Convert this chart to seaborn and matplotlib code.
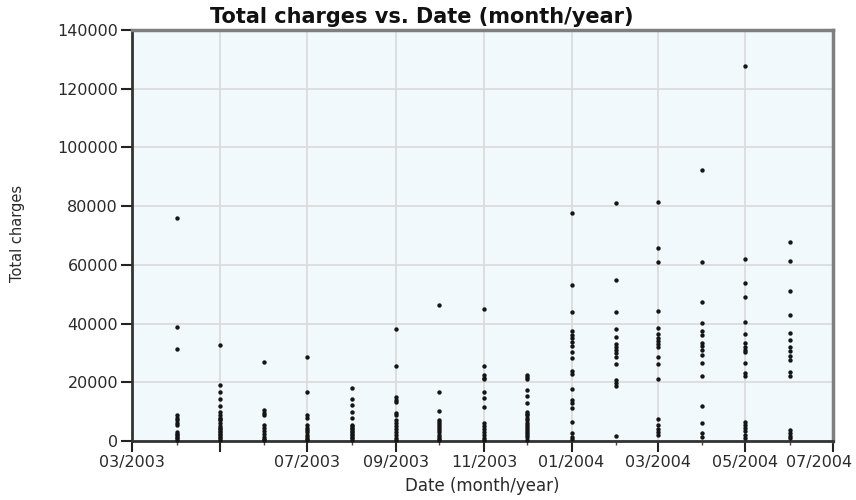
import matplotlib
matplotlib.use("Agg")
import matplotlib.pyplot as plt
import matplotlib.dates as mdates
import matplotlib.transforms as mtransforms
from matplotlib.ticker import FixedLocator, FixedFormatter
import seaborn as sns
import pandas as pd

# Total charges per visit, grouped by the month of the visit
months = ["2003-04", "2003-05", "2003-06", "2003-07", "2003-08", "2003-09",
          "2003-10", "2003-11", "2003-12", "2004-01", "2004-02", "2004-03",
          "2004-04", "2004-05", "2004-06"]

charges_2003_04 = [76000, 39000, 31400, 9000, 8000, 7000, 6000, 5500, 3000, 2500, 2000, 1500, 1000, 500]
charges_2003_05 = [32600, 19000, 16800, 14200, 11900, 10000, 9000, 8000, 7500, 7000, 6000, 5000,
                   4500, 4000, 3500, 3000, 2500, 2000, 1500, 1000, 500]
charges_2003_06 = [27000, 10500, 9500, 8800, 5500, 4500, 3500, 2500, 1500, 800, 300]
charges_2003_07 = [28700, 16800, 8800, 7800, 5500, 4500, 3800, 3000, 2200, 1500, 800, 300]
charges_2003_08 = [17900, 14200, 12300, 10000, 7700, 5500, 5000, 4500, 4000, 3500, 3000, 2500,
                   2000, 1500, 1000, 500]
charges_2003_09 = [38000, 25500, 15100, 14000, 13400, 9600, 8700, 7200, 6000, 5000, 4000, 3000,
                   2000, 1000, 300]
charges_2003_10 = [46300, 16800, 10300, 7200, 6500, 5800, 5000, 4300, 3600, 2900, 2200, 1500, 800, 300]
charges_2003_11 = [45100, 25500, 22500, 21500, 21000, 16800, 14800, 11500, 6000, 5000, 4000, 3000,
                   2000, 1000, 300]
charges_2003_12 = [22500, 21800, 21000, 17400, 15300, 13000, 10000, 9300, 8800, 7800, 7000, 6300,
                   5500, 4800, 4000, 3300, 2600, 1900, 1200, 500]
charges_2004_01 = [77500, 53300, 43900, 37500, 36100, 35000, 33800, 32500, 30400, 28200, 23900,
                   22800, 17800, 14000, 13000, 11400, 6400, 2600, 1200, 600]
charges_2004_02 = [81000, 54800, 43900, 38000, 35300, 33000, 32000, 31000, 30000, 28700, 26100,
                   20800, 19700, 18700, 1700]
charges_2004_03 = [81500, 65600, 60900, 44400, 38600, 36400, 35000, 34000, 33000, 32100, 28700,
                   26100, 21100, 7400, 5400, 4000, 3000, 2000]
charges_2004_04 = [92300, 60900, 47200, 40300, 37600, 36100, 33300, 32300, 31000, 29300, 26700,
                   22200, 11900, 6000, 2600, 1300]
charges_2004_05 = [127700, 62000, 53700, 48900, 40600, 36300, 33300, 32000, 31000, 30400, 26700,
                   23000, 22100, 6600, 5500, 4400, 3300, 2200, 1000]
charges_2004_06 = [67900, 61300, 51100, 42900, 36900, 34400, 32100, 30600, 29100, 27600, 23600,
                   22100, 3700, 2800, 1800, 900]

all_charges = [charges_2003_04, charges_2003_05, charges_2003_06, charges_2003_07, charges_2003_08,
               charges_2003_09, charges_2003_10, charges_2003_11, charges_2003_12, charges_2004_01,
               charges_2004_02, charges_2004_03, charges_2004_04, charges_2004_05, charges_2004_06]

# Axis ticks: a major tick every two months, the May 2003 one left unlabelled
tick_dates = ["2003-03-01", "2003-05-01", "2003-07-01", "2003-09-01", "2003-11-01",
              "2004-01-01", "2004-03-01", "2004-05-01", "2004-07-01"]
tick_labels = ["03/2003", "", "07/2003", "09/2003", "11/2003", "01/2004", "03/2004",
               "05/2004", "07/2004"]
minor_dates = ["2003-04-01", "2003-06-01", "2003-08-01", "2003-10-01", "2003-12-01",
               "2004-02-01", "2004-04-01", "2004-06-01"]
y_ticks = [0, 20000, 40000, 60000, 80000, 100000, 120000, 140000]

rows = []
for m, vals in zip(months, all_charges):
    for v in vals:
        rows.append({"date": pd.Timestamp(m + "-01"), "charges": v})
df = pd.DataFrame(rows)

sns.set_style("white")
plt.rcParams["font.family"] = ["DejaVu Sans"]

fig = plt.figure(figsize=(8.56, 5.0), dpi=100)
ax = fig.add_axes([132 / 856, 1 - 441 / 500, (833 - 132) / 856, (441 - 30) / 500])
ax.set_facecolor("#f1f9fc")

sns.scatterplot(data=df, x="date", y="charges", ax=ax, color="#151515", marker="o",
                s=10, linewidth=0, zorder=3, clip_on=False)

ax.set_xlim(mdates.date2num(pd.Timestamp("2003-03-01")), mdates.date2num(pd.Timestamp("2004-07-01")))
ax.set_ylim(0, 140000)

major = [mdates.date2num(pd.Timestamp(d)) for d in tick_dates]
minor = [mdates.date2num(pd.Timestamp(d)) for d in minor_dates]
ax.xaxis.set_major_locator(FixedLocator(major))
ax.xaxis.set_major_formatter(FixedFormatter(tick_labels))
ax.xaxis.set_minor_locator(FixedLocator(minor))
ax.set_yticks(y_ticks)
ax.set_yticklabels([str(v) for v in y_ticks])

ax.grid(True, which="major", color="#dadcde", linewidth=1.3, zorder=0)
ax.set_axisbelow(True)

ax.tick_params(axis="both", which="major", direction="out", length=8, width=1.5,
               color="#222222", labelsize=11.5, labelcolor="#2a2a2a", pad=2,
               left=True, bottom=True)
ax.tick_params(axis="x", which="minor", direction="out", length=3, width=1.0,
               color="#444444", bottom=True)

for side in ["left", "bottom"]:
    ax.spines[side].set_color("#333333")
    ax.spines[side].set_linewidth(2.0)
for side in ["top", "right"]:
    ax.spines[side].set_color("#7f7f7f")
    ax.spines[side].set_linewidth(2.5)
    ax.spines[side].set_visible(True)

# keep the last date label inside the figure
last = ax.get_xticklabels()[-1]
last.set_transform(last.get_transform() + mtransforms.ScaledTranslation(-0.14, 0, fig.dpi_scale_trans))

ax.set_xlabel("Date (month/year)", fontsize=12, color="#2a2a2a", labelpad=5)
ax.set_ylabel("")
fig.text(18 / 856, 1 - 233 / 500, "Total charges", rotation=90, ha="center", va="center",
         fontsize=10.5, color="#2a2a2a")
fig.text(422 / 856, 1 - 17 / 500, "Total charges vs. Date (month/year)", ha="center",
         va="center", fontsize=15, fontweight="bold", color="#111111")

fig.savefig("out.png", dpi=100)
